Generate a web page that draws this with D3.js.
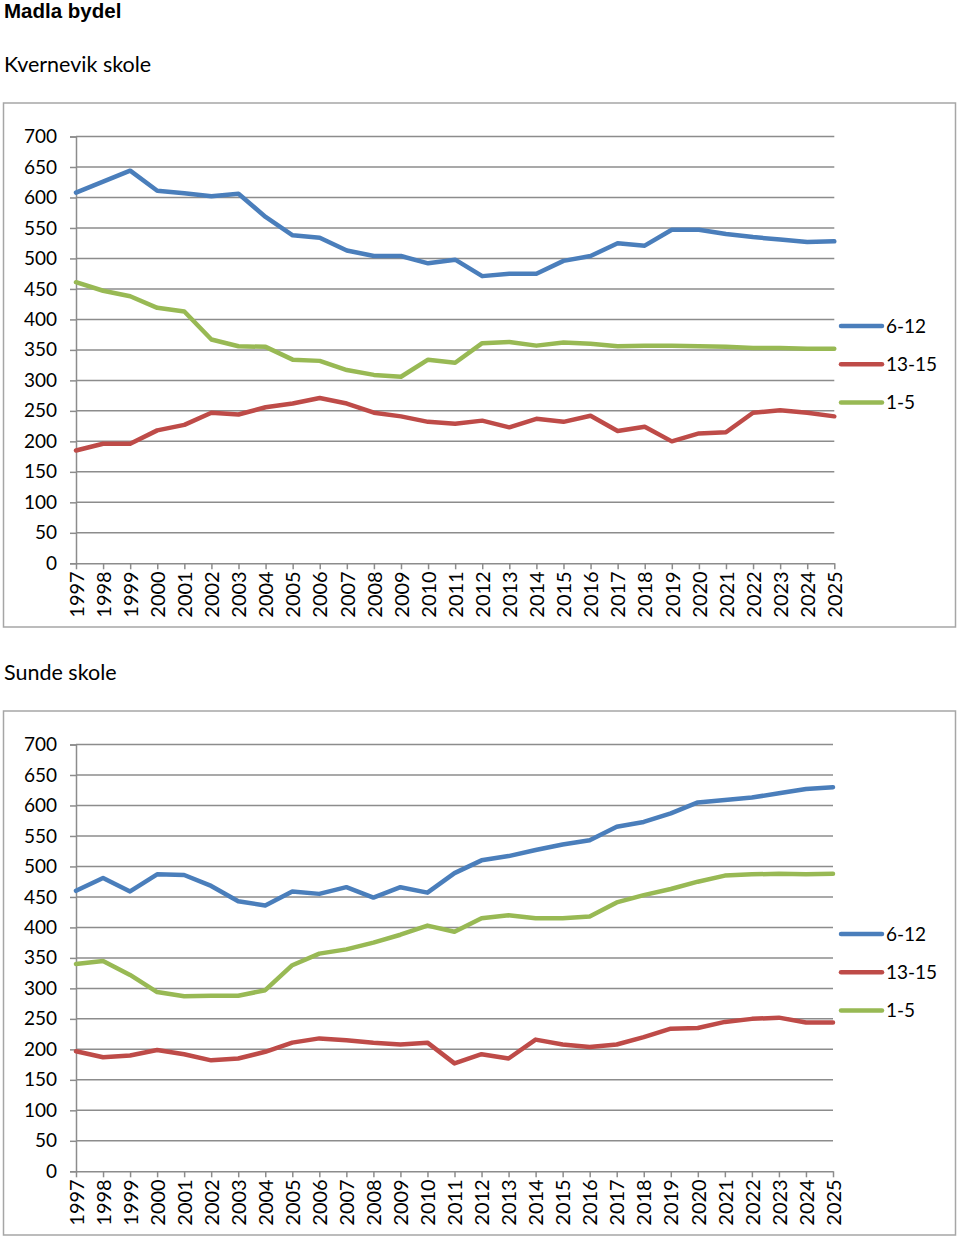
<!DOCTYPE html>
<html>
<head>
<meta charset="utf-8">
<script src="https://cdn.jsdelivr.net/npm/d3@7"></script>
<style>
  html, body { margin: 0; padding: 0; background: #fff; }
  svg text { font-family: Lato, "Open Sans", sans-serif; fill: #000; }
</style>
</head>
<body>
<svg id="chart" width="960" height="1238"></svg>
<script>
const years = ["1997","1998","1999","2000","2001","2002","2003","2004","2005","2006","2007","2008","2009","2010","2011","2012","2013","2014","2015","2016","2017","2018","2019","2020","2021","2022","2023","2024","2025"];
const yTicks = [0,50,100,150,200,250,300,350,400,450,500,550,600,650,700];
const seriesNames = ["6-12","13-15","1-5"];
const seriesColors = ["#4a7ebb","#be4b48","#98b954"];

// Kvernevik skole
const kvernevik_6_12 = [608,626,644,611,607,602,606,568,538,534,513,504,504,492,498,471,475,475,496,504,525,521,547,547,540,535,531,527,528];
const kvernevik_13_15 = [185,196,196,218,227,247,244,256,262,271,262,247,241,232,229,234,223,237,232,242,217,224,200,213,215,247,251,247,241];
const kvernevik_1_5 = [461,447,438,419,413,367,356,355,334,332,317,309,306,334,329,361,363,357,362,360,356,357,357,356,355,353,353,352,352];

// Sunde skole
const sunde_6_12 = [460,481,459,487,486,468,443,436,459,455,466,449,466,457,489,510,517,527,536,543,565,573,587,605,609,613,620,627,630];
const sunde_13_15 = [197,187,190,199,192,182,185,196,211,218,215,211,208,211,177,192,185,216,208,204,208,220,234,235,245,250,252,244,244];
const sunde_1_5 = [340,345,322,294,287,288,288,297,338,357,364,375,388,403,393,415,420,415,415,418,441,453,463,475,485,487,488,487,488];

const svg = d3.select("#chart");

svg.append("text").attr("x", 4).attr("y", 18)
  .style("font-family", "'Liberation Sans', Arial, sans-serif")
  .style("font-weight", "bold").style("font-size", "20.5px").text("Madla bydel");

function drawChart(top, title, x1, seriesData) {
  const frameTop = top;
  svg.append("text").attr("x", 4).attr("y", frameTop - 31)
    .style("font-size", "21.5px").text(title);

  svg.append("rect").attr("x", 3.5).attr("y", frameTop + 0.5)
    .attr("width", 952).attr("height", 524)
    .attr("fill", "#fff").attr("stroke", "#a6a6a6").attr("stroke-width", 1.5);

  const yTop = frameTop + 34, yBot = frameTop + 460.8;
  const x = d3.scalePoint().domain(years).range([76, x1]);
  const y = d3.scaleLinear().domain([0, 700]).range([yBot, yTop]);

  const g = svg.append("g");

  // gridlines
  g.append("g").selectAll("line").data(yTicks.filter(d => d > 0)).join("line")
    .attr("x1", 76).attr("x2", x1)
    .attr("y1", d => y(d)).attr("y2", d => y(d))
    .attr("stroke", "#8c8c8c").attr("stroke-width", 1.5);

  // y axis
  const ya = g.append("g").attr("transform", "translate(76,0)")
    .call(d3.axisLeft(y).tickValues(yTicks).tickSize(6).tickPadding(13).tickFormat(d3.format("d")));
  ya.select(".domain").attr("stroke", "#8c8c8c").attr("stroke-width", 1.5);
  ya.selectAll(".tick line").attr("stroke", "#8c8c8c").attr("stroke-width", 1.5);
  ya.selectAll("text").style("font-size", "19px").style("font-family", "Lato, sans-serif");

  // x axis
  const xa = g.append("g").attr("transform", `translate(0,${yBot})`)
    .call(d3.axisBottom(x).tickSize(6).tickSizeOuter(0));
  xa.select(".domain").attr("stroke", "#8c8c8c").attr("stroke-width", 1.5);
  xa.selectAll(".tick line").attr("stroke", "#8c8c8c").attr("stroke-width", 1.5);
  xa.selectAll("text")
    .attr("transform", "rotate(-90)")
    .attr("x", -8).attr("y", 0).attr("dy", "0.36em")
    .style("text-anchor", "end")
    .style("font-size", "20px").style("font-family", "Lato, sans-serif");

  const line = d3.line().x((d, i) => x(years[i])).y(d => y(d));
  seriesData.forEach((vals, k) => {
    g.append("path").datum(vals).attr("d", line)
      .attr("fill", "none").attr("stroke", seriesColors[k])
      .attr("stroke-width", 4.5).attr("stroke-linejoin", "round").attr("stroke-linecap", "round");
  });

  // legend
  const leg = g.append("g");
  seriesNames.forEach((name, k) => {
    const ly = frameTop + 223.5 + k * 38.3;
    leg.append("line").attr("x1", 841).attr("x2", 882).attr("y1", ly).attr("y2", ly)
      .attr("stroke", seriesColors[k]).attr("stroke-width", 4.5).attr("stroke-linecap", "round");
    leg.append("text").attr("x", 886).attr("y", ly).attr("dy", "0.36em")
      .style("font-size", "19px").text(name);
  });
}

drawChart(102.5, "Kvernevik skole", 834.3, [kvernevik_6_12, kvernevik_13_15, kvernevik_1_5]);
drawChart(710.5, "Sunde skole", 833, [sunde_6_12, sunde_13_15, sunde_1_5]);
</script>
</body>
</html>
